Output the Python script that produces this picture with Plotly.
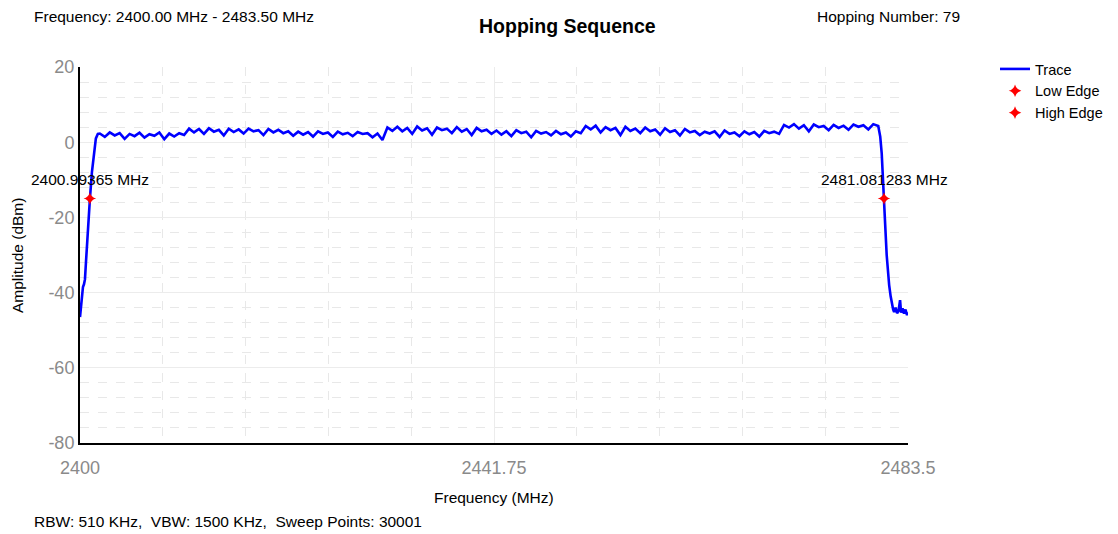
import plotly.graph_objects as go

# ---- data ----
low_edge_freq = [2400.0, 2400.1, 2400.2, 2400.3, 2400.4, 2400.5, 2400.6, 2400.7, 2400.8,
                 2400.9, 2401.0, 2401.2, 2401.4, 2401.6, 2401.8]
low_edge_amp = [-46.5, -43.5, -40.0, -38.5, -37.8, -36.5, -32.0, -27.0, -22.0,
                -18.0, -15.0, -8.0, -2.5, 1.0, 2.2]

plateau_start = 2402.0
plateau_step = 0.5
plateau_amp = [
    2.3, 1.4, 2.6, 1.8, 2.4, 0.9, 2.2, 1.6, 2.5, 1.2,
    2.1, 1.7, 2.6, 0.8, 2.3, 1.5, 2.4, 1.9, 3.6, 2.6,
    3.5, 2.2, 3.7, 2.8, 3.3, 1.8, 3.6, 2.7, 3.4, 2.3,
    3.6, 2.9, 3.2, 1.9, 3.5, 2.6, 3.3, 2.4, 2.9, 1.7,
    2.8, 2.0, 2.7, 1.5, 2.9, 2.2, 2.6, 1.4, 2.8, 2.1,
    2.5, 1.6, 2.7, 2.2, 2.4, 1.3, 2.3, 0.6, 3.9, 3.0,
    4.1, 2.9, 3.8, 2.2, 4.2, 3.1, 3.7, 2.0, 3.9, 3.2,
    3.6, 2.4, 4.0, 2.8, 3.5, 1.9, 3.8, 2.9, 3.3, 2.2,
    3.1, 2.0, 2.9, 1.6, 3.2, 2.4, 2.8, 1.3, 3.0, 2.3,
    2.7, 1.8, 3.0, 2.1, 2.6, 1.5, 2.9, 2.4, 4.3, 3.4,
    4.4, 2.6, 4.0, 3.2, 3.8, 1.9, 4.1, 3.0, 3.6, 2.4,
    3.9, 2.9, 3.4, 2.0, 3.7, 2.7, 3.2, 1.8, 3.5, 2.6,
    3.0, 1.9, 2.8, 2.3, 2.9, 1.4, 3.1, 2.2, 2.6, 1.6,
    2.9, 2.1, 2.7, 1.5, 3.0, 2.4, 2.8, 2.2, 4.6, 3.9,
    4.8, 3.6, 4.5, 2.9, 4.7, 4.0, 4.3, 3.2, 4.6, 3.8,
    4.4, 3.3, 4.7, 4.1, 4.5, 3.4, 4.8, 4.3,
]

high_edge_freq = [2480.7, 2480.85, 2481.0, 2481.08, 2481.2, 2481.35, 2481.5, 2481.6, 2481.75,
                  2481.9, 2482.0, 2482.1, 2482.25, 2482.4, 2482.55, 2482.7, 2482.8, 2482.95,
                  2483.1, 2483.25, 2483.4, 2483.5]
high_edge_amp = [1.5, -3.0, -10.0, -15.0, -22.0, -30.0, -36.0, -38.0, -41.0,
                 -43.5, -44.5, -45.2, -44.0, -45.5, -44.8, -42.0, -45.3, -44.2,
                 -45.6, -44.5, -46.0, -45.2]

low_marker = (2400.99365, -15.0)
high_marker = (2481.081283, -15.0)
low_label = "2400.99365 MHz"
high_label = "2481.081283 MHz"

x_ticks = [2400, 2441.75, 2483.5]
x_tick_text = ["2400", "2441.75", "2483.5"]
y_ticks = [20, 0, -20, -40, -60, -80]
y_tick_text = ["20", "0", "-20", "-40", "-60", "-80"]

# ---- build trace ----
plateau_freq = [plateau_start + plateau_step * i for i in range(len(plateau_amp))]
freq = low_edge_freq + plateau_freq + high_edge_freq
amp = low_edge_amp + plateau_amp + high_edge_amp

FONT = "Liberation Sans, Arial, sans-serif"

fig = go.Figure()
fig.add_trace(go.Scatter(x=freq, y=amp, mode="lines", name="Trace",
                         line=dict(color="#0000ff", width=2.6)))
fig.add_trace(go.Scatter(x=[low_marker[0]], y=[low_marker[1]], mode="markers", name="Low Edge",
                         marker=dict(symbol="star-diamond", color="#ff0000", size=9)))
fig.add_trace(go.Scatter(x=[high_marker[0]], y=[high_marker[1]], mode="markers", name="High Edge",
                         marker=dict(symbol="star-diamond", color="#ff0000", size=9)))

grid_major = "#ececec"
grid_minor = "#e8e8e8"

fig.update_xaxes(
    range=[2400, 2483.5], tickmode="array", tickvals=x_ticks, ticktext=x_tick_text,
    showline=True, linecolor="black", linewidth=2, mirror=False,
    showgrid=True, gridcolor=grid_major, gridwidth=1,
    ticks="", tickfont=dict(family=FONT, size=18, color="#8a8a8a"),
    ticklabelstandoff=7, zeroline=False,
    minor=dict(tick0=2400, dtick=8.35, showgrid=True, gridcolor=grid_minor, griddash="dash", gridwidth=1),
)
fig.update_yaxes(
    range=[-80, 20], tickmode="array", tickvals=y_ticks, ticktext=y_tick_text,
    showline=True, linecolor="black", linewidth=2, mirror=False,
    showgrid=True, gridcolor=grid_major, gridwidth=1,
    ticks="", tickfont=dict(family=FONT, size=18, color="#8a8a8a"),
    ticklabelstandoff=0, zeroline=False,
    minor=dict(tick0=-80, dtick=4, showgrid=True, gridcolor=grid_minor, griddash="dash", gridwidth=1),
)

# page positions (px) of the plot area in the browser window
PL, PT, PW, PH = 80, 67, 828, 376


def px(xp):
    return (xp - PL) / PW


def py(yp):
    return (PT + PH - yp) / PH


ann = []
ann.append(dict(text="Hopping Sequence", xref="paper", yref="paper", x=px(567), y=py(26),
                xanchor="center", yanchor="middle", showarrow=False,
                font=dict(family=FONT, size=19.5, color="black", weight="bold")))
ann.append(dict(text="Frequency: 2400.00 MHz - 2483.50 MHz", xref="paper", yref="paper",
                x=px(32), y=py(17), xanchor="left", yanchor="middle", showarrow=False,
                font=dict(family=FONT, size=15.5, color="black")))
ann.append(dict(text="Hopping Number: 79", xref="paper", yref="paper",
                x=px(815), y=py(17), xanchor="left", yanchor="middle", showarrow=False,
                font=dict(family=FONT, size=15.5, color="black")))
ann.append(dict(text="RBW: 510 KHz,  VBW: 1500 KHz,  Sweep Points: 30001", xref="paper", yref="paper",
                x=px(32), y=py(521), xanchor="left", yanchor="middle", showarrow=False,
                font=dict(family=FONT, size=15.5, color="black")))
ann.append(dict(text="Frequency (MHz)", xref="paper", yref="paper",
                x=px(494), y=py(497), xanchor="center", yanchor="middle", showarrow=False,
                font=dict(family=FONT, size=15.5, color="black")))
ann.append(dict(text="Amplitude (dBm)", xref="paper", yref="paper", textangle=-90,
                x=px(17), y=0.5, xanchor="center", yanchor="middle", showarrow=False,
                font=dict(family=FONT, size=15.5, color="black")))
ann.append(dict(text=low_label, x=low_marker[0], y=low_marker[1], xref="x", yref="y",
                xanchor="center", yanchor="middle", yshift=19, showarrow=False,
                font=dict(family=FONT, size=15.5, color="black")))
ann.append(dict(text=high_label, x=high_marker[0], y=high_marker[1], xref="x", yref="y",
                xanchor="center", yanchor="middle", yshift=19, showarrow=False,
                font=dict(family=FONT, size=15.5, color="black")))

# the html page adds an 8px body margin, so the figure is shifted by 8px
OFF = 8
W, H = 1118, 534 - OFF
fig.update_layout(
    width=W, height=H,
    margin=dict(l=PL - OFF, t=PT - OFF, r=W - (PL - OFF) - PW, b=H - (PT - OFF) - PH),
    paper_bgcolor="white", plot_bgcolor="white",
    showlegend=True,
    legend=dict(x=px(995), y=py(53), xanchor="left", yanchor="top",
                font=dict(family=FONT, size=14.5, color="black"), bgcolor="rgba(0,0,0,0)",
                tracegroupgap=0),
    annotations=ann,
)

fig.write_html("out.html")
